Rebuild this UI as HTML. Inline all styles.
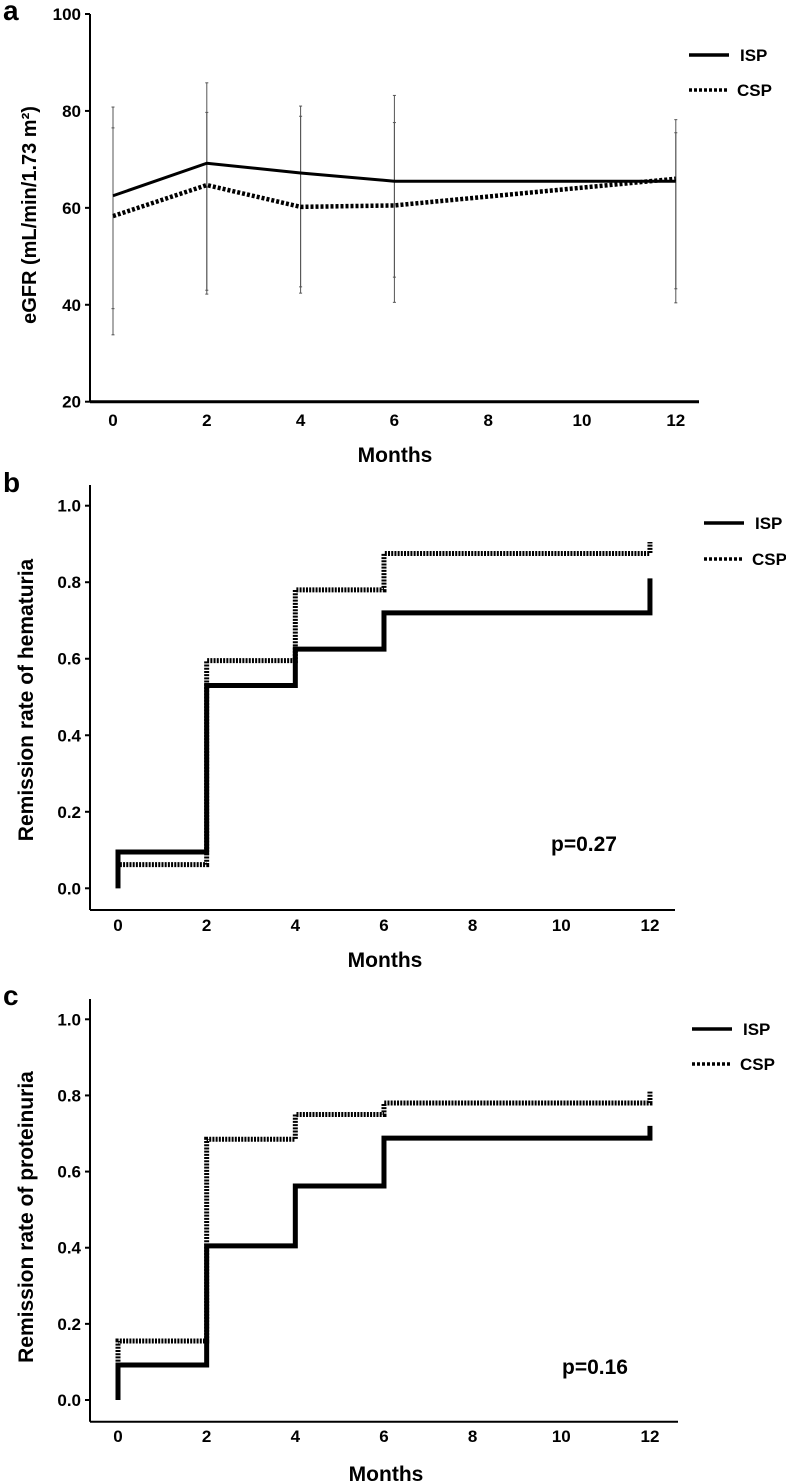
<!DOCTYPE html>
<html><head><meta charset="utf-8"><style>
html,body{margin:0;padding:0;background:#fff;}
svg{display:block;font-family:"Liberation Sans",Arial,sans-serif;font-weight:bold;}
.n{font-family:"Liberation Sans Narrow","Liberation Sans",Arial,sans-serif;}
</style></head><body>
<svg id="fig" width="786" height="1484" viewBox="0 0 786 1484" xmlns="http://www.w3.org/2000/svg"></svg>
<script>
// Panel a data
const monthsA = [0, 2, 4, 6, 12];
const ispA = [62.5, 69.2, 67.2, 65.5, 65.5];
const cspA = [58.3, 64.7, 60.2, 60.5, 66.0];
const errTopA = [80.8, 85.8, 81.0, 83.2, 78.2];
const errTop2A = [76.5, 79.7, 78.9, 77.6, 75.5];
const errBot2A = [39.2, 43.0, 43.7, 45.7, 43.3];
const errBotA = [33.8, 42.2, 42.4, 40.5, 40.4];
const yTicksA = [20, 40, 60, 80, 100];
const xTicks = [0, 2, 4, 6, 8, 10, 12];
// Panel b data (step values at months)
const stepMonths = [0, 2, 4, 6, 12];
const ispB = [0.095, 0.53, 0.625, 0.72, 0.72];
const cspB = [0.062, 0.595, 0.78, 0.875, 0.875];
const ispBEnd = 0.81;
const cspBEnd = 0.905;
// Panel c data
const ispC = [0.092, 0.405, 0.562, 0.688, 0.688];
const cspC = [0.155, 0.685, 0.75, 0.78, 0.78];
const ispCEnd = 0.72;
const cspCEnd = 0.81;
const yTicksBC = [0.0, 0.2, 0.4, 0.6, 0.8, 1.0];

const svg = document.getElementById('fig');
const NS = 'http://www.w3.org/2000/svg';
function mk(tag, attrs, parent) {
  const e = document.createElementNS(NS, tag);
  for (const k in attrs) e.setAttribute(k, attrs[k]);
  (parent || svg).appendChild(e);
  return e;
}
function txt(s, x, y, size, anchor, parent, narrow) {
  const t = mk('text', {x: x, y: y, 'font-size': size, 'text-anchor': anchor || 'middle', fill: '#000'}, parent);
  if (narrow) t.setAttribute('class', 'n');
  t.textContent = s;
  return t;
}

function panel(cfg) {
  const g = mk('g', {});
  
  
  const X = m => cfg.x0 + (m - cfg.m0) * cfg.xs;
  const Y = v => cfg.yv0 + (v - cfg.v0) * (cfg.yv1 - cfg.yv0) / (cfg.v1 - cfg.v0);
  const ya = mk('line', {x1: cfg.ax, y1: cfg.axTop, x2: cfg.ax, y2: cfg.axY, stroke: '#000', 'stroke-width': 2}, g);
  
  
  const xa = mk('line', {x1: cfg.ax, y1: cfg.axY, x2: cfg.axRight, y2: cfg.axY, stroke: '#000', 'stroke-width': cfg.xaw}, g);
  
  
  cfg.yTicks.forEach(v => {
    mk('line', {x1: cfg.ax - 5, y1: Y(v), x2: cfg.ax, y2: Y(v), stroke: '#000', 'stroke-width': 2}, g);
    const t = txt(cfg.fmt(v), cfg.ax - 9, Y(v) + 6, 17, 'end', g, true);
    
    
  });
  xTicks.forEach(m => {
    const t = txt(String(m), X(m), cfg.tickY, 17, 'middle', g, true);
    
    
  });
  const xt = txt('Months', cfg.monthsX, cfg.monthsY, 21, 'middle', g, true);
  
  
  const yt = txt(cfg.ytitle, 0, 0, cfg.ytSize || 20, 'middle', g);
  yt.setAttribute('transform', 'translate(' + cfg.ytX + ',' + cfg.ytY + ') rotate(-90)');
  
  
  const lt = txt(cfg.letter, 3, cfg.letterY, 28, 'start', g);
  
  
  const l1 = mk('line', {x1: cfg.legX, y1: cfg.legY1, x2: cfg.legX + 40, y2: cfg.legY1, stroke: '#000', 'stroke-width': 3.5}, g);
  
  
  const t1 = txt('ISP', cfg.legX + 51, cfg.legY1 + 6, 17, 'start', g, true);
  
  
  const l2 = mk('line', {x1: cfg.legX, y1: cfg.legY2, x2: cfg.legX + 40, y2: cfg.legY2, stroke: '#000', 'stroke-width': 3.5, 'stroke-dasharray': '3,2'}, g);
  
  
  const t2 = txt('CSP', cfg.legX + 48, cfg.legY2 + 6, 17, 'start', g, true);
  
  
  return {g: g, X: X, Y: Y};
}

// Panel a
const pa = panel({name: 'panel-a-egfr', m0: 0, x0: 113, xs: 46.9, v0: 20, v1: 100, yv0: 401.7, yv1: 14,
  ax: 90, axTop: 14, axY: 401.7, axRight: 699, xaw: 3, yTicks: yTicksA, fmt: v => String(v),
  tickY: 426, monthsX: 395, monthsY: 462, ytitle: 'eGFR (mL/min/1.73 m\u00B2)', ytSize: 20, ytX: 36, ytY: 215,
  letter: 'a', letterY: 20, legX: 689, legY1: 55, legY2: 90});
monthsA.forEach((m, i) => {
  [[errTopA[i], errBotA[i]], [errTop2A[i], errBot2A[i]]].forEach(p => {
    const e = mk('line', {x1: pa.X(m), y1: pa.Y(p[0]), x2: pa.X(m), y2: pa.Y(p[1]), stroke: '#555', 'stroke-width': 1}, pa.g);
    
    
    [p[0], p[1]].forEach(v => mk('line', {x1: pa.X(m) - 1.5, y1: pa.Y(v), x2: pa.X(m) + 1.5, y2: pa.Y(v), stroke: '#555', 'stroke-width': 1}, pa.g));
  });
});
const ptsIsp = monthsA.map((m, i) => pa.X(m) + ',' + pa.Y(ispA[i])).join(' ');
const la = mk('polyline', {points: ptsIsp, fill: 'none', stroke: '#000', 'stroke-width': 3}, pa.g);


const ptsCsp = monthsA.map((m, i) => pa.X(m) + ',' + pa.Y(cspA[i])).join(' ');
const lc = mk('polyline', {points: ptsCsp, fill: 'none', stroke: '#000', 'stroke-width': 4.5, 'stroke-dasharray': '3,2'}, pa.g);



function stepPath(p, vals, endVal) {
  let d = 'M' + p.X(stepMonths[0]) + ',' + p.Y(0) + ' L' + p.X(stepMonths[0]) + ',' + p.Y(vals[0]);
  for (let i = 1; i < stepMonths.length; i++) {
    d += ' L' + p.X(stepMonths[i]) + ',' + p.Y(vals[i - 1]) + ' L' + p.X(stepMonths[i]) + ',' + p.Y(vals[i]);
  }
  d += ' L' + p.X(stepMonths[stepMonths.length - 1]) + ',' + p.Y(endVal);
  return d;
}
function kmPanel(cfg, isp, csp, ispEnd, cspEnd, pText, pX, pY) {
  const p = panel(cfg);
  const s1 = mk('path', {d: stepPath(p, isp, ispEnd), fill: 'none', stroke: '#000', 'stroke-width': 5}, p.g);
  
  
  const s2 = mk('path', {d: stepPath(p, csp, cspEnd), fill: 'none', stroke: '#000', 'stroke-width': 5, 'stroke-dasharray': '2,1.2'}, p.g);
  
  
  const pt = txt(pText, pX, pY, 21, 'start', p.g, true);
  
  
}
kmPanel({name: 'panel-b-hematuria', m0: 0, x0: 118, xs: 44.33, v0: 0, v1: 1, yv0: 888.3, yv1: 505.7,
  ax: 90, axTop: 485, axY: 910, axRight: 675, xaw: 2, yTicks: yTicksBC, fmt: v => v.toFixed(1),
  tickY: 931, monthsX: 385, monthsY: 967, ytitle: 'Remission rate of hematuria', ytSize: 21, ytX: 33, ytY: 700,
  letter: 'b', letterY: 492, legX: 704, legY1: 523, legY2: 559}, ispB, cspB, ispBEnd, cspBEnd, 'p=0.27', 551, 851);
kmPanel({name: 'panel-c-proteinuria', m0: 0, x0: 118, xs: 44.33, v0: 0, v1: 1, yv0: 1400, yv1: 1019.3,
  ax: 90, axTop: 999, axY: 1421.7, axRight: 678, xaw: 2, yTicks: yTicksBC, fmt: v => v.toFixed(1),
  tickY: 1442, monthsX: 386, monthsY: 1481, ytitle: 'Remission rate of proteinuria', ytSize: 21, ytX: 33, ytY: 1217,
  letter: 'c', letterY: 1005, legX: 692, legY1: 1029, legY2: 1064}, ispC, cspC, ispCEnd, cspCEnd, 'p=0.16', 562, 1374);
</script>
</body></html>
